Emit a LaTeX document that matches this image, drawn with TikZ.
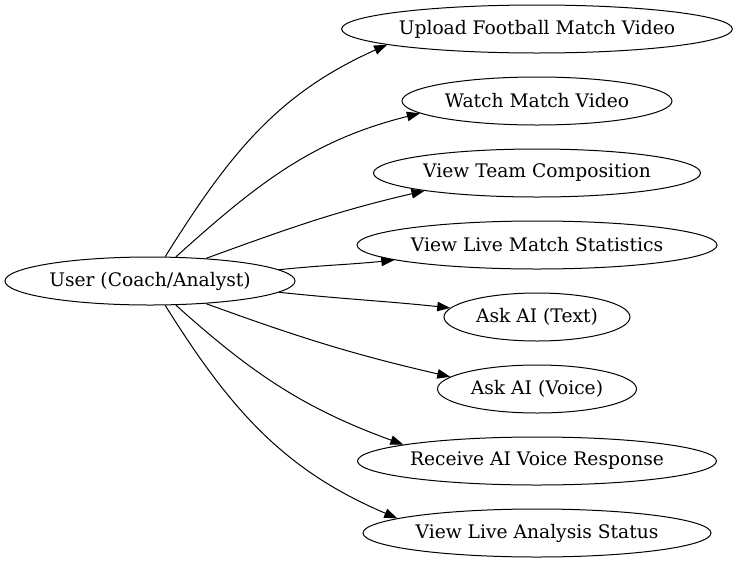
\documentclass[tikz,border=0pt]{standalone}
\usepackage{fontspec}
\setmainfont{DejaVu Serif}
\usetikzlibrary{shapes.geometric,arrows.meta}
\begin{document}
\begin{tikzpicture}
[x=1pt,y=1pt,%
  usecase/.style={shape=ellipse,draw,line width=1pt,inner sep=0pt,minimum height=48pt},%
  edge/.style={line width=1pt,-{Triangle[length=13pt,width=9.5pt]}}]
\useasboundingbox (0,0) rectangle (736,-563);
\fontsize{18.67}{22}\selectfont
\node[usecase,minimum width=290pt] (user) at (150,-281) {User (Coach/Analyst)};
\node[usecase,minimum width=389pt] (upload) at (537,-29) {Upload Football Match Video};
\node[usecase,minimum width=270pt] (watch) at (537,-101) {Watch Match Video};
\node[usecase,minimum width=327pt] (team) at (537,-173) {View Team Composition};
\node[usecase,minimum width=360pt] (stats) at (537,-245) {View Live Match Statistics};
\node[usecase,minimum width=186pt] (asktext) at (537,-317) {Ask AI (Text)};
\node[usecase,minimum width=199pt] (askvoice) at (537,-389) {Ask AI (Voice)};
\node[usecase,minimum width=359pt] (receive) at (537,-461) {Receive AI Voice Response};
\node[usecase,minimum width=348pt] (status) at (537,-533) {View Live Analysis Status};
\draw[edge] (user.58) to[out=58,in=204] (upload.186);
\draw[edge] (user.43) to[out=42,in=194] (watch.186);
\draw[edge] (user.22) to[out=20,in=193] (team.189);
\draw[edge] (user.5) to[out=6,in=186] (stats.186);
\draw[edge] (user.-5) to[out=-6,in=174] (asktext.174);
\draw[edge] (user.-22) to[out=-20,in=167] (askvoice.172);
\draw[edge] (user.-43) to[out=-42,in=160] (receive.173);
\draw[edge] (user.-58) to[out=-58,in=157] (status.174);
\end{tikzpicture}
\end{document}
